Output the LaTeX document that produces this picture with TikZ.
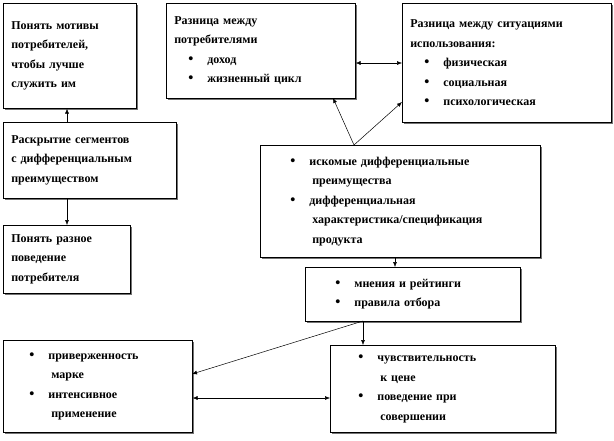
\documentclass[tikz,border=0pt]{standalone}
\usepackage{fontspec}
\setmainfont{Liberation Serif}
\usetikzlibrary{shadows,arrows.meta}
\begin{document}
\begin{tikzpicture}[x=1pt,y=-1pt,
  box/.style={draw,line width=0.6pt,fill=white,drop shadow={shadow xshift=2pt,shadow yshift=-2pt,fill=black!55,opacity=1},
    anchor=north west,align=left,inner sep=0pt,font=\bfseries\fontsize{12}{19.5}\selectfont},
  arr/.style={-{Latex[length=5pt,width=4pt]},line width=0.5pt},
  darr/.style={{Latex[length=5pt,width=4pt]}-{Latex[length=5pt,width=4pt]},line width=0.5pt}]
\newcommand{\bl}{\hspace*{22pt}{\Large\textbullet}\hspace{14pt}}
\newcommand{\ind}{\hspace*{44pt}}
\useasboundingbox (0,0) rectangle (614,440);
\node[box,minimum width=133,minimum height=105,text width=133] (A) at (3,3) {\hspace*{8pt}Понять мотивы\\\hspace*{8pt}потребителей,\\\hspace*{8pt}чтобы лучше\\\hspace*{8pt}служить им};
\node[box,minimum width=189,minimum height=95,text width=189] (B) at (166,3) {\hspace*{8pt}Разница между\\\hspace*{8pt}потребителями\\\bl доход\\\bl жизненный цикл};
\node[box,minimum width=209,minimum height=119,text width=209] (C) at (402,3) {\hspace*{8pt}Разница между ситуациями\\\hspace*{8pt}использования:\\\bl физическая\\\bl социальная\\\bl психологическая};
\node[box,minimum width=173,minimum height=76,text width=173] (D) at (3,122) {\hspace*{8pt}Раскрытие сегментов\\\hspace*{8pt}с дифференциальным\\\hspace*{8pt}преимуществом};
\node[box,minimum width=280,minimum height=112,text width=280] (E) at (260,145) {\hspace*{8pt}\bl искомые дифференциальные\\\hspace*{8pt}\ind преимущества\\\hspace*{8pt}\bl дифференциальная\\\hspace*{8pt}\ind характеристика/спецификация\\\hspace*{8pt}\ind продукта};
\node[box,minimum width=127,minimum height=68,text width=127] (F) at (3,225) {\hspace*{8pt}Понять разное\\\hspace*{8pt}поведение\\\hspace*{8pt}потребителя};
\node[box,minimum width=215,minimum height=54,text width=215] (G) at (305,267) {\hspace*{8pt}\bl мнения и рейтинги\\\hspace*{8pt}\bl правила отбора};
\node[box,minimum width=189,minimum height=92,text width=189] (H) at (3,340) {\hspace*{4pt}\bl приверженность\\\hspace*{4pt}\ind марке\\\hspace*{4pt}\bl интенсивное\\\hspace*{4pt}\ind применение};
\node[box,minimum width=225,minimum height=87,text width=225] (I) at (330,345) {\hspace*{6pt}\bl чувствительность\\\hspace*{6pt}\ind к цене\\\hspace*{6pt}\bl поведение при\\\hspace*{6pt}\ind совершении};
\coordinate (d1) at (67,122); \coordinate (a1) at (67,108);
\draw[arr] (d1) -- (a1 |- A.south);
\coordinate (d2) at (67,198);
\draw[arr] (d2) -- (d2 |- F.north);
\draw[darr] (B.east |- 0,63) -- (C.west |- 0,63);
\coordinate (e1) at (354,145); \coordinate (b1) at (333,98);
\draw[arr] (e1) -- (b1);
\coordinate (c1) at (402,102);
\draw[arr] (e1) -- (c1);
\coordinate (e2) at (395,257);
\draw[arr] (e2) -- (e2 |- G.north);
\coordinate (g1) at (363,321); \coordinate (h1) at (192,374);
\draw[arr] (g1) -- (h1);
\draw[arr] (g1) -- (g1 |- I.north);
\draw[darr] (H.east |- 0,398) -- (I.west |- 0,398);
\end{tikzpicture}
\end{document}
